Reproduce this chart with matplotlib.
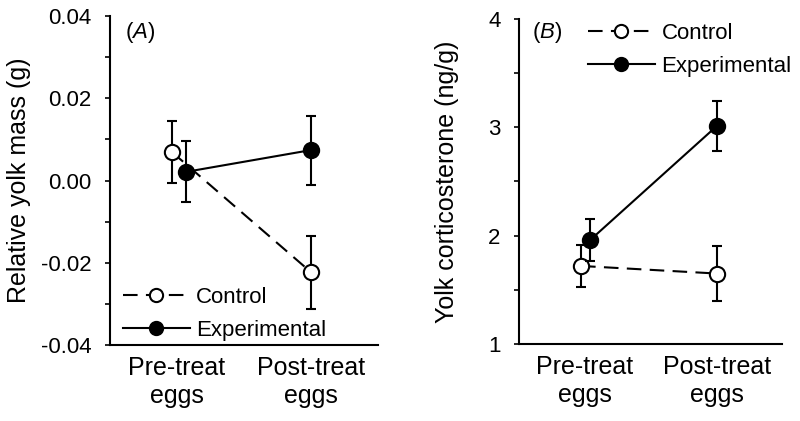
import matplotlib
matplotlib.use("Agg")
import matplotlib.pyplot as plt
from matplotlib.lines import Line2D
from matplotlib.ticker import MultipleLocator

plt.rcParams["font.family"] = ["Liberation Sans", "DejaVu Sans"]
plt.rcParams["mathtext.fontset"] = "custom"
plt.rcParams["mathtext.rm"] = "Liberation Sans"
plt.rcParams["mathtext.it"] = "Liberation Sans:italic"

groups = ["Pre-treat\neggs", "Post-treat\neggs"]

# panel A: relative yolk mass (g)
mass_ctrl = [0.0069, -0.0223]
mass_ctrl_se = [0.0075, 0.0089]
mass_exp = [0.0021, 0.0074]
mass_exp_se = [0.0074, 0.0084]

# panel B: yolk corticosterone (ng/g)
cort_ctrl = [1.72, 1.65]
cort_ctrl_se = [0.19, 0.25]
cort_exp = [1.96, 3.01]
cort_exp_se = [0.19, 0.23]

DASH = (0, (7, 4))

fig = plt.figure(figsize=(8, 4.21), dpi=100)
axA = fig.add_axes([0.1375, 0.1805, 0.335, 0.7815])
axB = fig.add_axes([0.649, 0.183, 0.329, 0.772])


def draw(ax, ctrl, ctrl_se, exp, exp_se, offs):
    xc = [1 + offs[0], 2]
    xe = [1 + offs[1], 2]
    ax.errorbar(xc, ctrl, yerr=ctrl_se, color="black", lw=1.5, ls=DASH,
                marker="o", ms=11, mfc="white", mec="black", mew=1.5,
                ecolor="black", elinewidth=1.5, capsize=3.8, capthick=1.5,
                zorder=3)
    ax.errorbar(xe, exp, yerr=exp_se, color="black", lw=1.5, ls="-",
                marker="o", ms=11, mfc="black", mec="black", mew=1.5,
                ecolor="black", elinewidth=1.5, capsize=3.8, capthick=1.5,
                zorder=4)
    ax.set_xlim(0.5, 2.5)
    ax.set_xticks([1, 2])
    ax.set_xticklabels(groups, fontsize=18)
    ax.tick_params(axis="x", length=0, pad=8)
    ax.tick_params(axis="y", which="both", direction="out", length=3.5,
                   width=1.2, labelsize=16, pad=10)
    ax.spines["top"].set_visible(False)
    ax.spines["right"].set_visible(False)
    ax.spines["left"].set_linewidth(1.5)
    ax.spines["bottom"].set_linewidth(1.5)


def add_legend(ax, anchor):
    handles = [
        Line2D([], [], color="black", lw=1.5, ls=DASH, marker="o", ms=9.5,
               mfc="white", mec="black", mew=1.5),
        Line2D([], [], color="black", lw=1.5, ls="-", marker="o", ms=9.5,
               mfc="black", mec="black", mew=1.5),
    ]
    ax.legend(handles, ["Control", "Experimental"], loc="center left",
              bbox_to_anchor=anchor, frameon=False, numpoints=1, fontsize=16,
              handlelength=3.0, handletextpad=0.3, labelspacing=0.55,
              borderpad=0, borderaxespad=0)


draw(axA, mass_ctrl, mass_ctrl_se, mass_exp, mass_exp_se, (-0.037, 0.067))
axA.set_ylim(-0.04, 0.04)
axA.yaxis.set_major_locator(MultipleLocator(0.02))
axA.yaxis.set_minor_locator(MultipleLocator(0.01))
axA.yaxis.set_major_formatter(lambda v, p: "%.2f" % (0.0 if abs(v) < 1e-9 else v))
axA.set_ylabel("Relative yolk mass (g)", fontsize=18)
axA.yaxis.set_label_coords(-0.295, 0.5)
axA.text(0.056, 0.951, r"($\mathit{A}$)", transform=axA.transAxes,
         ha="left", va="center", fontsize=16)
add_legend(axA, (0.0485, 0.094))

draw(axB, cort_ctrl, cort_ctrl_se, cort_exp, cort_exp_se, (-0.03, 0.04))
axB.set_ylim(1, 4)
axB.yaxis.set_major_locator(MultipleLocator(1))
axB.yaxis.set_minor_locator(MultipleLocator(0.5))
axB.set_ylabel("Yolk corticosterone (ng/g)", fontsize=18)
axB.yaxis.set_label_coords(-0.228, 0.5)
axB.text(0.049, 0.957, r"($\mathit{B}$)", transform=axB.transAxes,
         ha="left", va="center", fontsize=16)
add_legend(axB, (0.262, 0.905))

fig.savefig("out.png", dpi=100, facecolor="white")
